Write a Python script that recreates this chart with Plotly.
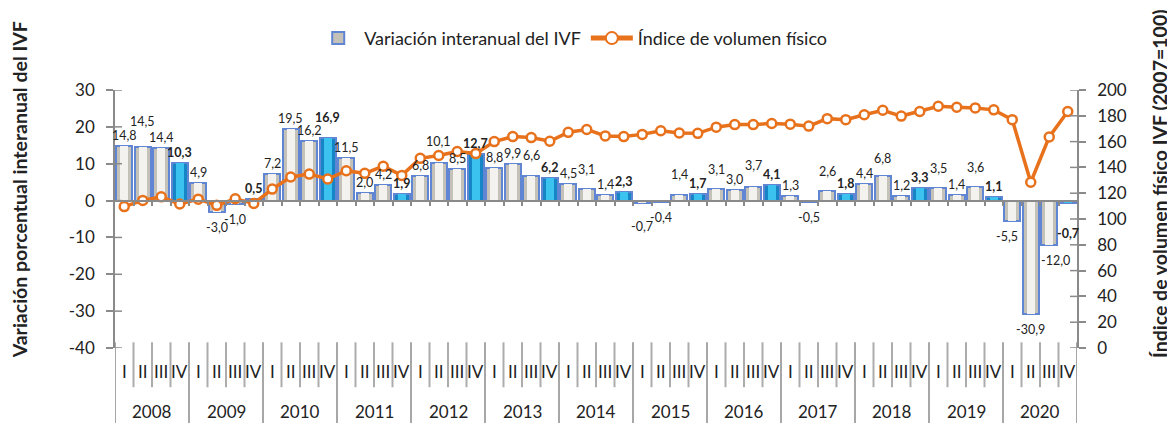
import plotly.graph_objects as go

# ---------------- data ----------------
years = ["2008", "2009", "2010", "2011", "2012", "2013", "2014",
         "2015", "2016", "2017", "2018", "2019", "2020"]
quarters = ["I", "II", "III", "IV"]

variacion = [14.8, 14.5, 14.4, 10.3,
             4.9, -3.0, -1.0, 0.5,
             7.2, 19.5, 16.2, 16.9,
             11.5, 2.0, 4.2, 1.9,
             6.8, 10.1, 8.5, 12.7,
             8.8, 9.9, 6.6, 6.2,
             4.5, 3.1, 1.4, 2.3,
             -0.7, -0.4, 1.4, 1.7,
             3.1, 3.0, 3.7, 4.1,
             1.3, -0.5, 2.6, 1.8,
             4.4, 6.8, 1.2, 3.3,
             3.5, 1.4, 3.6, 1.1,
             -5.5, -30.9, -12.0, -0.7]

ivf = [109.6, 114.4, 117.2, 111.6,
       115.4, 110.6, 115.7, 112.1,
       123.2, 132.6, 134.8, 131.0,
       137.4, 135.4, 140.9, 133.8,
       147.0, 149.2, 152.3, 150.7,
       160.0, 163.9, 163.1, 160.3,
       167.2, 169.4, 164.4, 163.9,
       165.6, 168.4, 166.7, 166.4,
       171.2, 173.2, 173.2, 174.0,
       173.5, 172.0, 177.8, 177.0,
       180.8, 184.3, 179.8, 183.3,
       187.4, 186.6, 186.1, 184.6,
       177.0, 128.5, 163.6, 183.3]

left_ticks = [30, 20, 10, 0, -10, -20, -30, -40]
right_ticks = [200, 180, 160, 140, 120, 100, 80, 60, 40, 20, 0]

name_bar = "Variación interanual del IVF"
name_line = "Índice de volumen físico"
title_left = "Variación porcentual interanual del IVF"
title_right = "Índice de volumen físico IVF (2007=100)"

# ---------------- styling ----------------
FONT = "Lato"
AXIS = "#8a8a8a"
SEP = "#acacac"
ORANGE = "#E8711C"
BORDER = "#5f85d3"
TXT = "#222222"

n = len(variacion)
xs = list(range(n))
is_q4 = [(i % 4) == 3 for i in xs]
base_col = ["#1585c6" if q else "#c4c1b9" for q in is_q4]
hi_col = ["#3cc2ef" if q else "#f3f2ee" for q in is_q4]

# label extra shifts (px) to mimic the reference placement
label_dy = {1: 15, 11: 10, 17: 11, 22: 10, 25: 9, 30: 10, 32: 9, 34: 11,
            38: 9, 41: 7, 44: 9, 46: 9, 28: -8, 51: -15}
label_dx = {48: -5, 50: 6}


def fmt(v):
    s = f"{v:.1f}" if isinstance(v, float) and v != int(v) else f"{int(v)}"
    return s.replace(".", ",")


fig = go.Figure()

fig.add_trace(go.Bar(
    x=xs, y=variacion, name=name_bar, width=0.86,
    marker=dict(color=base_col, line=dict(color=BORDER, width=2)),
    yaxis="y", hoverinfo="skip",
))
fig.add_trace(go.Bar(
    x=xs, y=variacion, width=0.42, showlegend=False,
    marker=dict(color=hi_col, line=dict(width=0)),
    yaxis="y", hoverinfo="skip",
))
fig.add_trace(go.Scatter(
    x=xs, y=ivf, name=name_line, mode="lines+markers", yaxis="y2",
    line=dict(color=ORANGE, width=3.5),
    marker=dict(size=9, color="white", line=dict(color=ORANGE, width=2.5)),
))

annotations = []
for i, v in enumerate(variacion):
    txt = f"{v:.1f}".replace(".", ",")
    if is_q4[i]:
        txt = f"<b>{txt}</b>"
    pos = v >= 0
    annotations.append(dict(
        x=i, y=v, xref="x", yref="y", text=txt, showarrow=False,
        yanchor="bottom" if pos else "top",
        yshift=(1 if pos else -6) + label_dy.get(i, 0),
        xshift=label_dx.get(i, 0),
        font=dict(family=FONT, size=12.5, color=TXT),
    ))

# quarter labels and year labels
for i in xs:
    annotations.append(dict(
        x=i, y=-0.091, xref="x", yref="paper", text=quarters[i % 4],
        showarrow=False, yanchor="middle",
        font=dict(family=FONT, size=17, color=TXT)))
for k, yr in enumerate(years):
    annotations.append(dict(
        x=4 * k + 1.5, y=-0.246, xref="x", yref="paper", text=yr,
        showarrow=False, yanchor="middle",
        font=dict(family=FONT, size=17, color=TXT)))

# axis titles
annotations.append(dict(
    x=-0.099, y=0.614, xref="paper", yref="paper", text=f"<b>{title_left}</b>",
    textangle=-90, showarrow=False, xanchor="center", yanchor="middle",
    font=dict(family=FONT, size=19.5, color=TXT)))
annotations.append(dict(
    x=1.0863, y=0.636, xref="paper", yref="paper", text=f"<b>{title_right}</b>",
    textangle=-90, showarrow=False, xanchor="center", yanchor="middle",
    font=dict(family=FONT, size=19.5, color=TXT)))

# category separators
shapes = []
for j in range(n + 1):
    xb = j - 0.5
    year_edge = (j % 4 == 0)
    shapes.append(dict(
        type="line", xref="x", yref="paper", x0=xb, x1=xb,
        y0=0.022, y1=-0.30 if year_edge else -0.152,
        line=dict(color=AXIS if year_edge else SEP, width=1.5 if year_edge else 2),
        layer="below"))

# inner halves of the crossing tick marks on both value axes
tick_half = 7 / 962
for t in left_ticks:
    shapes.append(dict(type="line", xref="paper", yref="y", x0=0, x1=tick_half,
                       y0=t, y1=t, line=dict(color=AXIS, width=1.5)))
for t in right_ticks:
    shapes.append(dict(type="line", xref="paper", yref="y2", x0=1 - tick_half, x1=1,
                       y0=t, y1=t, line=dict(color=AXIS, width=1.5)))

# the page adds an 8 px body margin; the figure is sized to compensate
fig.update_layout(
    width=1167, height=415,
    margin=dict(l=107, r=98, t=76, b=75),
    paper_bgcolor="white", plot_bgcolor="white",
    barmode="overlay", bargap=0,
    font=dict(family=FONT, color=TXT),
    showlegend=True,
    legend=dict(orientation="h", x=0.205, xanchor="left", y=1.2, yanchor="middle",
                font=dict(family=FONT, size=18, color=TXT), bgcolor="rgba(0,0,0,0)",
                itemsizing="constant", itemwidth=42),
    xaxis=dict(
        range=[-0.5, n - 0.5], anchor="free", position=40 / 70,
        showline=True, linecolor=AXIS, linewidth=1.5,
        tickmode="array", tickvals=[j - 0.5 for j in range(1, n)],
        ticks="outside", ticklen=5, tickcolor=AXIS, tickwidth=1.5,
        showticklabels=False, showgrid=False, zeroline=False, fixedrange=True),
    yaxis=dict(
        range=[-40, 30], tickmode="array", tickvals=left_ticks,
        ticktext=[fmt(t) for t in left_ticks],
        showline=True, linecolor=AXIS, linewidth=1.5,
        ticks="outside", ticklen=7, tickcolor=AXIS, tickwidth=1.5,
        ticklabelstandoff=8, tickfont=dict(family=FONT, size=17, color=TXT),
        showgrid=False, zeroline=False),
    yaxis2=dict(
        range=[0, 200], tickmode="array", tickvals=right_ticks,
        ticktext=[fmt(t) for t in right_ticks],
        overlaying="y", side="right", anchor="x",
        showline=True, linecolor=AXIS, linewidth=1.5,
        ticks="outside", ticklen=7, tickcolor=AXIS, tickwidth=1.5,
        ticklabelstandoff=8, tickfont=dict(family=FONT, size=17, color=TXT),
        showgrid=False, zeroline=False),
    annotations=annotations,
    shapes=shapes,
)

fig.write_html("out.html")
